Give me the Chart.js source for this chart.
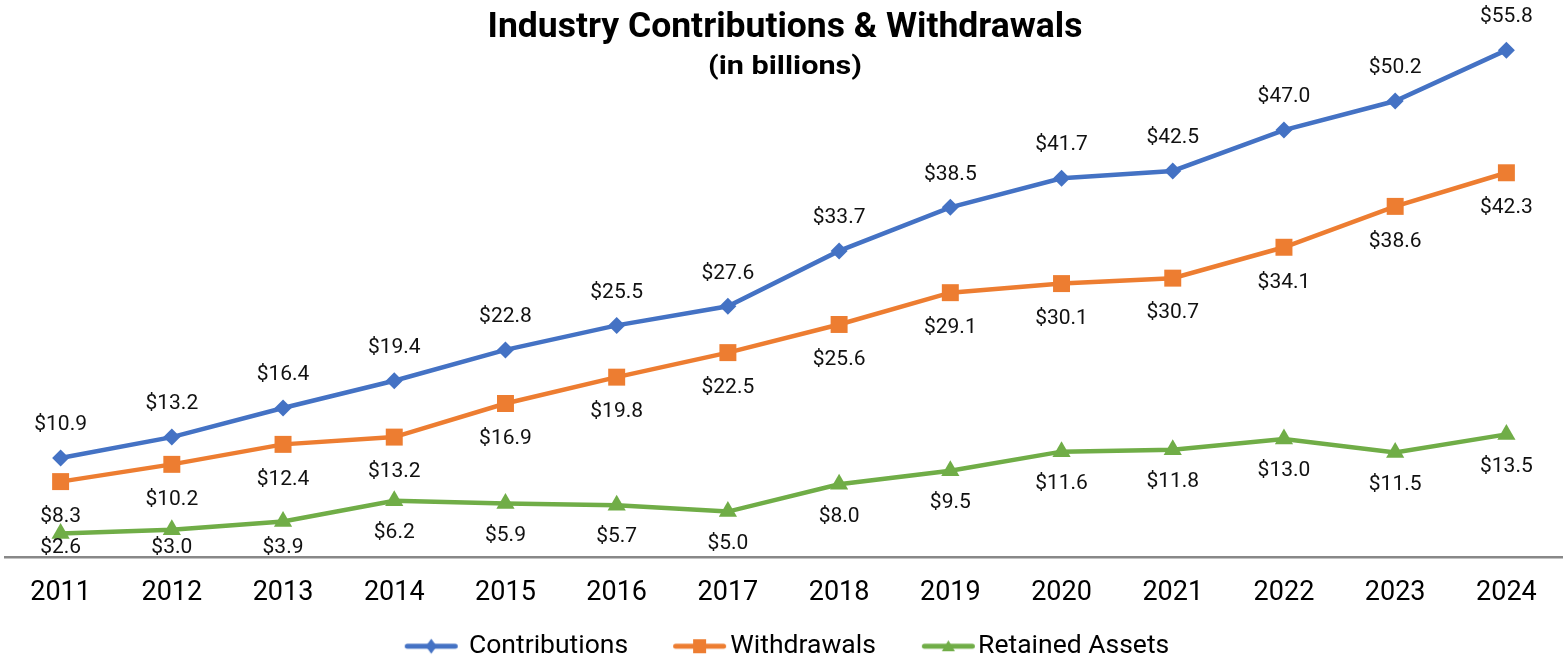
<!DOCTYPE html>
<html>
<head>
<meta charset="utf-8">
<script src="https://cdn.jsdelivr.net/npm/chart.js@4"></script>
<style>
    body { margin: 0; background: #fff; }
    #wrap { width: 1565px; height: 660px; }
</style>
</head>
<body>
<div id="wrap"><canvas id="industryChart"></canvas></div>
<script>
const years = ["2011", "2012", "2013", "2014", "2015", "2016", "2017", "2018", "2019", "2020", "2021", "2022", "2023", "2024"];
const contributions = [10.9, 13.2, 16.4, 19.4, 22.8, 25.5, 27.6, 33.7, 38.5, 41.7, 42.5, 47.0, 50.2, 55.8];
const withdrawals = [8.3, 10.2, 12.4, 13.2, 16.9, 19.8, 22.5, 25.6, 29.1, 30.1, 30.7, 34.1, 38.6, 42.3];
const retained = [2.6, 3.0, 3.9, 6.2, 5.9, 5.7, 5.0, 8.0, 9.5, 11.6, 11.8, 13.0, 11.5, 13.5];

const blue = "#4472C4";
const orange = "#ED7D31";
const green = "#70AD47";

const legendFont = 26.5;
const legendBox = 40;

// legend icons: line with marker; the canvas right edge sits where the text starts
function makeIcon(color, shape, gap) {
    const c = document.createElement("canvas");
    c.width = legendBox + legendFont;
    c.height = 18;
    const g = c.getContext("2d");
    const x1 = c.width - gap;
    const x0 = x1 - 53;
    const mx = (x0 + x1) / 2;
    g.strokeStyle = color;
    g.fillStyle = color;
    g.lineWidth = 5;
    g.lineCap = "round";
    g.beginPath();
    g.moveTo(x0 + 2.5, 9);
    g.lineTo(x1 - 2.5, 9);
    g.stroke();
    g.beginPath();
    if (shape === "diamond") {
        g.moveTo(mx, 1.5); g.lineTo(mx + 5.5, 9); g.lineTo(mx, 16.5); g.lineTo(mx - 5.5, 9);
    } else if (shape === "square") {
        g.rect(mx - 6.5, 2, 13, 14);
    } else {
        g.moveTo(mx, 3); g.lineTo(mx + 6.5, 14); g.lineTo(mx - 6.5, 14);
    }
    g.closePath();
    g.fill();
    return c;
}
const legendIcons = [makeIcon(blue, "diamond", 11), makeIcon(orange, "square", 4), makeIcon(green, "triangle", 3)];

// title + subtitle, squeezed to look like the condensed face of the original
const titlePlugin = {
    id: "titleText",
    afterDraw(chart) {
        const ctx = chart.ctx;
        const cx = 785;
        const lines = [
            { text: "Industry Contributions & Withdrawals", font: "bold 35px Roboto", base: 37, width: 595 },
            { text: "(in billions)", font: "bold 26px Roboto", base: 74, width: 154 }
        ];
        ctx.save();
        ctx.fillStyle = "#000";
        ctx.textAlign = "center";
        ctx.textBaseline = "alphabetic";
        lines.forEach(l => {
            ctx.font = l.font;
            const w = ctx.measureText(l.text).width;
            ctx.save();
            ctx.translate(cx, l.base);
            ctx.scale(l.width / w, 1);
            ctx.fillText(l.text, 0, 0);
            ctx.restore();
        });
        ctx.restore();
    }
};

// value labels: above for contributions, below for the others (kept inside the plot)
const labelOffsets = [-33, 35, 32];
const valueLabels = {
    id: "valueLabels",
    afterDatasetsDraw(chart) {
        const ctx = chart.ctx;
        const bottom = chart.chartArea.bottom;
        ctx.save();
        ctx.font = "21px Roboto";
        ctx.fillStyle = "#111";
        ctx.textAlign = "center";
        ctx.textBaseline = "middle";
        chart.data.datasets.forEach((ds, i) => {
            const meta = chart.getDatasetMeta(i);
            meta.data.forEach((pt, j) => {
                let y = pt.y + labelOffsets[i];
                if (labelOffsets[i] > 0) y = Math.min(y, bottom - 9);
                ctx.fillText("$" + ds.data[j].toFixed(1), pt.x, y);
            });
        });
        ctx.restore();
    }
};

// keep the legend box short and pull it up; the label padding is only wanted between items
const legendPlace = {
    id: "legendPlace",
    beforeLayout(chart) {
        const lg = chart.legend;
        if (!lg || lg._fitPatched) return;
        const fit = lg.fit;
        lg.fit = function () {
            fit.call(this);
            this.height = 47;
        };
        lg._fitPatched = true;
    },
    afterLayout(chart) {
        const lg = chart.legend;
        if (!lg) return;
        lg.top = 584;
        lg.left += 9;
        lg.right += 9;
    }
};

const ctx = document.getElementById("industryChart").getContext("2d");
const industryChart = new Chart(ctx, {
    type: "line",
    data: {
        labels: years,
        datasets: [
            {
                label: "Contributions",
                data: contributions,
                borderColor: blue,
                backgroundColor: blue,
                borderWidth: 4.5,
                pointStyle: "rectRot",
                pointRadius: 8.5,
                pointBorderWidth: 0
            },
            {
                label: "Withdrawals",
                data: withdrawals,
                borderColor: orange,
                backgroundColor: orange,
                borderWidth: 4.5,
                pointStyle: "rect",
                pointRadius: 12,
                pointBorderWidth: 0
            },
            {
                label: "Retained Assets",
                data: retained,
                borderColor: green,
                backgroundColor: green,
                borderWidth: 4.5,
                pointStyle: "triangle",
                pointRadius: 10.5,
                pointBorderWidth: 0
            }
        ]
    },
    options: {
        responsive: true,
        maintainAspectRatio: false,
        animation: false,
        layout: { autoPadding: false, padding: { left: 5, right: 3, top: 12, bottom: 0 } },
        scales: {
            x: {
                offset: true,
                grid: { display: false, drawTicks: false },
                border: { color: "#888", width: 2.5 },
                ticks: { color: "#000", font: { family: "Roboto", size: 27 }, padding: 20 },
                afterFit(scale) { scale.height = 56; }
            },
            y: {
                display: false,
                min: 0,
                max: 60
            }
        },
        plugins: {
            title: { display: false },
            tooltip: { enabled: false },
            legend: {
                position: "bottom",
                labels: {
                    usePointStyle: true,
                    pointStyleWidth: legendBox,
                    color: "#000",
                    font: { family: "Roboto", size: legendFont },
                    padding: 49,
                    generateLabels(chart) {
                        const items = Chart.defaults.plugins.legend.labels.generateLabels(chart);
                        items.forEach((item, i) => { item.pointStyle = legendIcons[i]; });
                        return items;
                    }
                }
            }
        }
    },
    plugins: [titlePlugin, valueLabels, legendPlace]
});
</script>
</body>
</html>
